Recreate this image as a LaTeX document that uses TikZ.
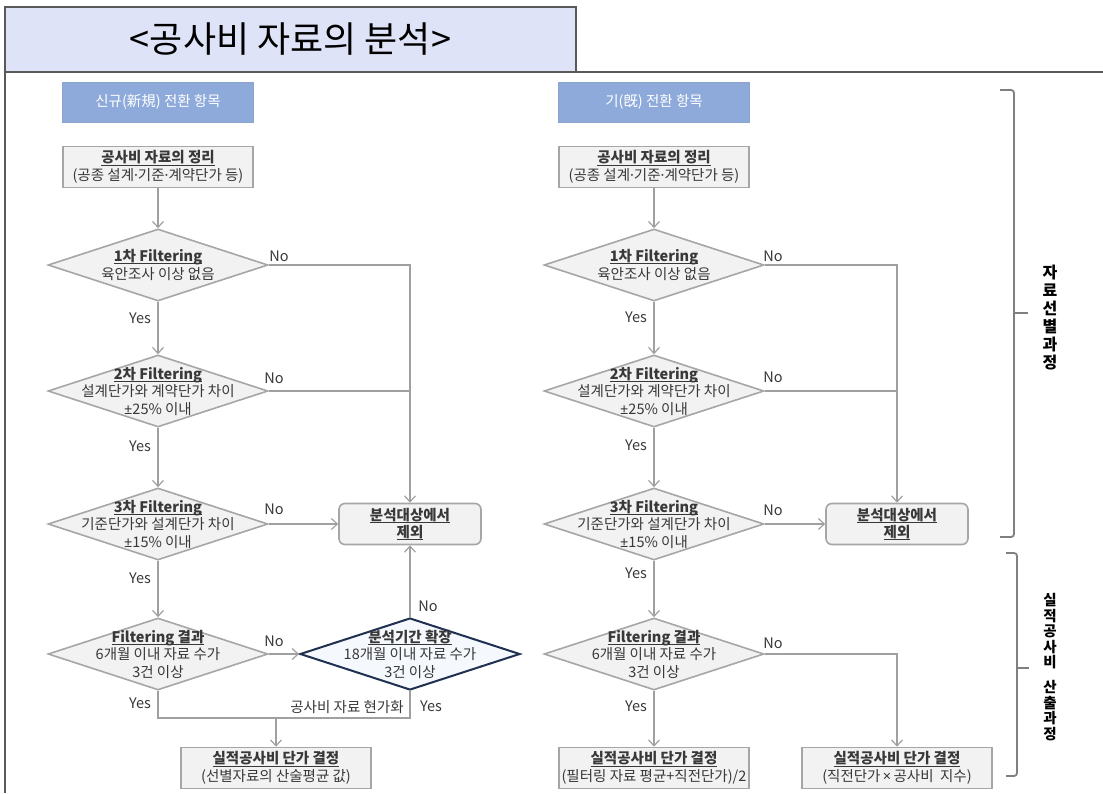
\documentclass[tikz,border=0pt]{standalone}
\usepackage{fontspec}
\setmainfont{Noto Sans CJK KR}
\newfontfamily\lat{Noto Sans}
\usetikzlibrary{shapes.geometric,arrows.meta,calc}
\definecolor{txt}{HTML}{383838}
\definecolor{ln}{HTML}{A0A0A0}
\definecolor{bd}{HTML}{A6A6A6}
\definecolor{fillg}{HTML}{F2F2F2}
\definecolor{hdr}{HTML}{8EAADB}
\definecolor{ttl}{HTML}{DFE3F7}
\definecolor{navy}{HTML}{1F3050}
\definecolor{frm}{HTML}{595959}
\definecolor{brk}{HTML}{808080}
\definecolor{dfill}{HTML}{F5F8FC}
\newsavebox{\ulbox}
\newcommand{\ulx}[1]{\sbox{\ulbox}{#1}\leavevmode\rlap{\rule[-2.6pt]{\wd\ulbox}{0.9pt}}\usebox{\ulbox}}
\newcommand{\pmx}{{\lat ±}}
\newcommand{\dotx}{{\lat ·}}
\begin{document}
\begin{tikzpicture}[x=1pt,y=-1pt,
  every node/.style={text=txt, font=\fontsize{14.5}{17.5}\selectfont},
  ttlbox/.style={rectangle, fill=ttl, draw=frm, line width=1.5pt, minimum width=571pt, minimum height=65pt, inner sep=0pt, text=black, font=\fontsize{36}{40}\selectfont},
  hdrbox/.style={rectangle, fill=hdr, draw=hdr!85!gray, line width=0.8pt, minimum width=191pt, minimum height=40pt, inner sep=0pt, text=white},
  stepbox/.style={rectangle, fill=fillg, draw=bd, line width=1.6pt, minimum width=190pt, minimum height=41pt, inner sep=0pt, align=center},
  exbox/.style={stepbox, rounded corners=6pt, minimum width=142pt},
  dia/.style={diamond, fill=fillg, draw=bd, line width=1.6pt, minimum width=220pt, minimum height=72pt, inner sep=0pt},
  diaN/.style={dia, fill=dfill, draw=navy, line width=2pt},
  dtext/.style={align=center, inner sep=0pt},
  lbl/.style={inner sep=0pt},
  vtext/.style={align=center, inner sep=0pt, text=black},
  conn/.style={draw=ln, line width=1.2pt},
  arr/.style={conn, -{Straight Barb[length=6pt,width=11pt]}},
  brace/.style={draw=brk, line width=1.8pt, rounded corners=3pt},
]
\useasboundingbox (0,0) rectangle (1103,793);
% frame
\node[ttlbox] (title) at (290.5,39.5) {<공사비 자료의 분석>};
\draw[frm, line width=1.5pt] (5,72) -- (1103,72);
\draw[frm, line width=1.5pt] (5,7) -- (5,793);

% headers
\node[hdrbox] (h1) at (158,102) {신규(新規) 전환 항목};
\node[hdrbox] (h2) at (654,102) {기(旣) 전환 항목};

% left column
\node[stepbox] (a1) at (158,167) {\textbf{\ulx{공사비 자료의 정리}}\\(공종 설계\dotx 기준\dotx 계약단가 등)};
\node[dia] (d1) at (158,265) {};
\node[dtext] (d1t) at (158,265) {\textbf{\ulx{1차 Filtering}}\\육안조사 이상 없음};
\node[dia] (d2) at (158,391) {};
\node[dtext] (d2t) at (158,391) {\textbf{\ulx{2차 Filtering}}\\설계단가와 계약단가 차이\\\pmx 25\% 이내};
\node[dia] (d3) at (158,524) {};
\node[dtext] (d3t) at (158,524) {\textbf{\ulx{3차 Filtering}}\\기준단가와 설계단가 차이\\\pmx 15\% 이내};
\node[dia] (d4) at (158,654) {};
\node[dtext] (d4t) at (158,654) {\textbf{\ulx{Filtering 결과}}\\6개월 이내 자료 수가\\3건 이상};
\node[diaN] (d5) at (410,654) {};
\node[dtext] (d5t) at (410,654) {\textbf{\ulx{분석기간 확장}}\\18개월 이내 자료 수가\\3건 이상};
\node[exbox] (x1) at (410,524) {\textbf{\ulx{분석대상에서}}\\\textbf{\ulx{제외}}};
\node[stepbox] (f1) at (276,768) {\textbf{\ulx{실적공사비 단가 결정}}\\(선별자료의 산술평균 값)};

% right column
\node[stepbox] (b1) at (654,167) {\textbf{\ulx{공사비 자료의 정리}}\\(공종 설계\dotx 기준\dotx 계약단가 등)};
\node[dia] (e1) at (654,265) {};
\node[dtext] (e1t) at (654,265) {\textbf{\ulx{1차 Filtering}}\\육안조사 이상 없음};
\node[dia] (e2) at (654,391) {};
\node[dtext] (e2t) at (654,391) {\textbf{\ulx{2차 Filtering}}\\설계단가와 계약단가 차이\\\pmx 25\% 이내};
\node[dia] (e3) at (654,524) {};
\node[dtext] (e3t) at (654,524) {\textbf{\ulx{3차 Filtering}}\\기준단가와 설계단가 차이\\\pmx 15\% 이내};
\node[dia] (e4) at (654,654) {};
\node[dtext] (e4t) at (654,654) {\textbf{\ulx{Filtering 결과}}\\6개월 이내 자료 수가\\3건 이상};
\node[exbox] (x2) at (897,524) {\textbf{\ulx{분석대상에서}}\\\textbf{\ulx{제외}}};
\node[stepbox] (f2) at (654,768) {\textbf{\ulx{실적공사비 단가 결정}}\\(필터링 자료 평균+직전단가)/2};
\node[stepbox] (f3) at (897,768) {\textbf{\ulx{실적공사비 단가 결정}}\\(직전단가{\lat\,×\,}공사비 \ 지수)};

% left connectors
\draw[arr] (a1.south) -- (d1.north);
\draw[arr] (d1.south) -- (d2.north);
\draw[arr] (d2.south) -- (d3.north);
\draw[arr] (d3.south) -- (d4.north);
\draw[arr] (d1.east) -| (x1.north);
\draw[conn] (d2.east) -- (d2.east -| x1.north);
\draw[arr] (d3.east) -- (x1.west);
\draw[arr] (d4.east) -- (d5.west);
\draw[arr] (d5.north) -- (x1.south);
\coordinate (jy) at (0,718);
\draw[conn] (d4.south) -- (d4.south |- jy) -- (d5.south |- jy) -- (d5.south);
\draw[arr] (f1.north |- jy) -- (f1.north);

% right connectors
\draw[arr] (b1.south) -- (e1.north);
\draw[arr] (e1.south) -- (e2.north);
\draw[arr] (e2.south) -- (e3.north);
\draw[arr] (e3.south) -- (e4.north);
\draw[arr] (e4.south) -- (f2.north);
\draw[arr] (e1.east) -| (x2.north);
\draw[conn] (e2.east) -- (e2.east -| x2.north);
\draw[arr] (e3.east) -- (x2.west);
\draw[arr] (e4.east) -| (f3.north);

% labels
\node[lbl] (n1) at (279,256) {No};
\node[lbl] (n2) at (274,378) {No};
\node[lbl] (n3) at (274,509) {No};
\node[lbl] (n4) at (274,641) {No};
\node[lbl] (n5) at (428,606) {No};
\node[lbl] (y1) at (140,318) {Yes};
\node[lbl] (y2) at (140,446) {Yes};
\node[lbl] (y3) at (140,578) {Yes};
\node[lbl] (y4) at (140,703) {Yes};
\node[lbl] (y5) at (431,706) {Yes};
\node[lbl] (hk) at (347,707) {공사비 자료 현가화};
\node[lbl] (m1) at (773,256) {No};
\node[lbl] (m2) at (773,377) {No};
\node[lbl] (m3) at (773,510) {No};
\node[lbl] (m4) at (773,643) {No};
\node[lbl] (z1) at (636,317) {Yes};
\node[lbl] (z2) at (636,445) {Yes};
\node[lbl] (z3) at (636,573) {Yes};
\node[lbl] (z4) at (636,706) {Yes};

% brackets
\draw[brace] (1000,90) -- (1014,90) -- (1014,537) -- (1000,537);
\draw[draw=brk, line width=1.8pt] (1014,313) -- (1028,313);
\draw[brace] (1006,553) -- (1017,553) -- (1017,776) -- (1006,776);
\draw[draw=brk, line width=1.8pt] (1017,668) -- (1029,668);
\node[vtext, font=\bfseries\fontsize{16}{18}\selectfont] (v1) at (1050,318) {자\\료\\선\\별\\과\\정};
\node[vtext, font=\bfseries\fontsize{14.5}{15.5}\selectfont] (v2) at (1050,667) {실\\적\\공\\사\\비\\[9.5pt]산\\출\\과\\정};
\end{tikzpicture}
\end{document}
